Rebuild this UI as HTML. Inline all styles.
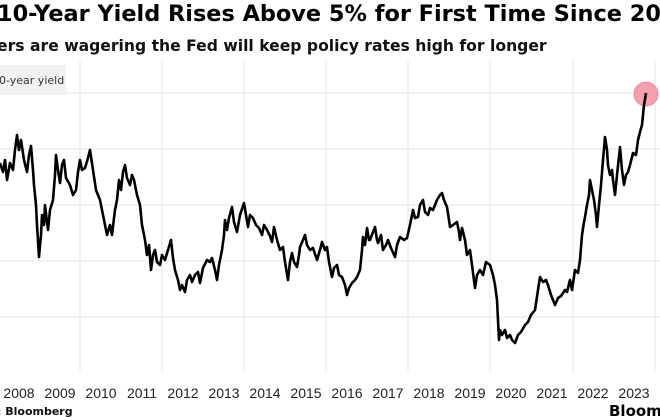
<!DOCTYPE html>
<html><head><meta charset="utf-8"><style>
html,body{margin:0;padding:0;background:#fff;}
body{width:660px;height:420px;overflow:hidden;position:relative;font-family:"Liberation Sans","DejaVu Sans",sans-serif;}
.t{position:absolute;left:-3px;top:1px;width:663px;overflow:hidden;font-size:22.4px;font-weight:bold;color:#000;white-space:nowrap;font-family:"DejaVu Sans","Liberation Sans",sans-serif;}
.s{position:absolute;left:-3px;top:37px;font-size:15.6px;font-weight:bold;color:#111;white-space:nowrap;font-family:"DejaVu Sans","Liberation Sans",sans-serif;}
</style></head><body>
<div class="t">10-Year Yield Rises Above 5% for First Time Since 2007</div>
<div class="s">ers are wagering the Fed will keep policy rates high for longer</div>
<svg width="660" height="420" style="position:absolute;left:0;top:0" xmlns="http://www.w3.org/2000/svg">
<g stroke="#e6e6e6" stroke-width="1">
<line x1="0" y1="93" x2="660" y2="93"/><line x1="0" y1="149" x2="660" y2="149"/><line x1="0" y1="205" x2="660" y2="205"/><line x1="0" y1="261" x2="660" y2="261"/><line x1="0" y1="317" x2="660" y2="317"/>
<line x1="80" y1="60" x2="80" y2="372"/><line x1="162" y1="60" x2="162" y2="372"/><line x1="244" y1="60" x2="244" y2="372"/><line x1="326" y1="60" x2="326" y2="372"/><line x1="408" y1="60" x2="408" y2="372"/><line x1="490" y1="60" x2="490" y2="372"/><line x1="573" y1="60" x2="573" y2="372"/><line x1="655" y1="60" x2="655" y2="372"/>
</g>
<rect x="0" y="65" width="66" height="30" fill="#f2f2f2"/>
<text x="-1" y="84" font-size="11" fill="#333" font-family="DejaVu Sans, Liberation Sans, sans-serif">0-year yield</text>
<circle cx="646" cy="94" r="12" fill="#f4a0ae" stroke="#e8808f" stroke-width="0.8"/>
<polyline fill="none" stroke="#000" stroke-width="2.6" stroke-linejoin="round" points="0,163 3,172 5,160 7,180 10,163 13,170 15,150 17,135 19,150 21,140 24,160 27,172 29,155 31,146 33,170 34,185 36,205 37,225 39,257 41,235 42,215 44,225 45,205 47,222 48,230 50,210 53,200 55,175 56,155 58,170 60,183 62,165 64,160 66,178 70,185 73,195 76,190 78,172 80,160 82,170 85,168 88,158 90,150 93,170 96,190 98,195 100,200 103,215 107,235 110,225 112,235 114,218 115,210 117,200 119,180 121,190 123,172 125,165 127,178 130,185 132,175 134,180 137,195 140,205 142,225 145,240 147,255 149,245 151,270 153,255 155,250 157,262 160,265 162,255 165,260 168,250 171,240 173,258 175,270 178,280 180,290 182,285 185,292 187,280 190,275 192,282 195,275 198,272 200,283 203,268 207,260 210,262 212,258 215,270 217,280 219,265 222,250 224,235 225,220 227,230 229,218 232,207 234,222 237,232 240,215 244,203 246,215 248,227 250,215 253,218 256,225 259,228 262,235 264,225 267,230 270,236 272,242 274,227 277,240 280,250 283,247 285,262 288,280 290,262 292,253 294,262 297,267 299,255 300,247 303,240 305,235 307,245 310,250 313,248 317,260 320,250 322,242 325,250 327,247 329,262 332,277 334,268 337,265 339,275 342,277 345,285 347,295 349,288 352,283 355,280 357,277 360,270 362,250 363,237 365,245 367,228 369,240 370,240 373,232 375,227 377,240 378,243 381,235 383,250 386,245 388,240 391,248 395,257 397,245 400,237 404,240 407,238 410,225 413,210 415,218 418,217 420,205 423,200 425,212 428,215 430,208 433,210 437,200 440,195 442,193 444,200 447,207 449,220 450,227 453,225 457,222 459,232 460,240 462,228 465,240 467,255 470,250 472,265 475,288 477,275 480,270 483,275 486,262 490,265 493,275 495,285 497,300 498,320 499,340 500,330 502,335 505,330 507,338 510,335 512,340 515,343 518,335 521,332 525,325 528,322 531,315 535,310 538,290 540,277 543,282 546,280 548,285 551,295 553,300 555,305 558,298 561,296 565,290 567,292 570,280 572,290 575,270 578,273 580,260 582,235 584,222 585,217 587,205 589,195 590,180 592,190 594,200 596,215 597,227 599,205 601,185 603,160 605,137 607,150 608,165 610,175 612,170 613,180 615,195 617,175 620,147 622,170 624,185 626,175 628,172 630,165 633,153 636,155 638,140 640,132 642,125 644,105 646,93"/>
<g font-size="14" fill="#222" text-anchor="middle" font-family="Liberation Sans, sans-serif">
<text x="19" y="398">2008</text><text x="60" y="398">2009</text><text x="101" y="398">2010</text><text x="142" y="398">2011</text><text x="183" y="398">2012</text><text x="224" y="398">2013</text><text x="265" y="398">2014</text><text x="306" y="398">2015</text><text x="347" y="398">2016</text><text x="388" y="398">2017</text><text x="429" y="398">2018</text><text x="470" y="398">2019</text><text x="511" y="398">2020</text><text x="552" y="398">2021</text><text x="593" y="398">2022</text><text x="634" y="398">2023</text>
</g>
<text x="-3" y="415" font-size="11" font-weight="bold" fill="#111" font-family="DejaVu Sans, Liberation Sans, sans-serif">: Bloomberg</text>
<text x="609" y="416" font-size="15" font-weight="bold" fill="#000" font-family="DejaVu Sans, Liberation Sans, sans-serif">Bloomberg</text>
</svg>
</body></html>
